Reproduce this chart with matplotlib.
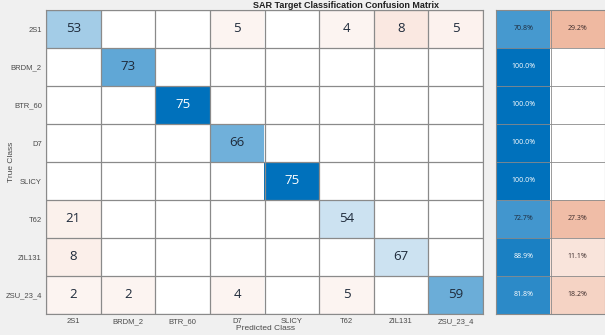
import matplotlib
matplotlib.use("Agg")
import matplotlib.pyplot as plt
import numpy as np

# DATOS
# -----
clases = ["2S1", "BRDM_2", "BTR_60", "D7", "SLICY", "T62", "ZIL131", "ZSU_23_4"]

# matriz de confusion (0 = celda vacia)
conf = np.array([
    [53, 0, 0, 5, 0, 4, 8, 5],
    [0, 73, 0, 0, 0, 0, 0, 0],
    [0, 0, 75, 0, 0, 0, 0, 0],
    [0, 0, 0, 66, 0, 0, 0, 0],
    [0, 0, 0, 0, 75, 0, 0, 0],
    [21, 0, 0, 0, 0, 54, 0, 0],
    [8, 0, 0, 0, 0, 0, 67, 0],
    [2, 2, 0, 4, 0, 5, 0, 59],
])

# resumen por fila (%)
acierto = [70.8, 100.0, 100.0, 100.0, 100.0, 72.7, 88.9, 81.8]
fallo = [29.2, 0.0, 0.0, 0.0, 0.0, 27.3, 11.1, 18.2]

# intensidad del color de cada celda (estilo)
tono = np.array([
    [0.36, 0, 0, 0.06, 0, 0.06, 0.13, 0.07],
    [0, 0.62, 0, 0, 0, 0, 0, 0],
    [0, 0, 1.0, 0, 0, 0, 0, 0],
    [0, 0, 0, 0.56, 0, 0, 0, 0],
    [0, 0, 0, 0, 1.0, 0, 0, 0],
    [0.08, 0, 0, 0, 0, 0.2, 0, 0],
    [0.09, 0, 0, 0, 0, 0, 0.2, 0],
    [0.06, 0.06, 0, 0.06, 0, 0.06, 0, 0.58],
])

azul = np.array([0.0, 0.447, 0.741])
naranja = np.array([0.85, 0.325, 0.098])
blanco = np.ones(3)


def mezcla(base, t):
    return blanco + t * (base - blanco)


n = len(clases)
img = np.zeros((n, n, 3))
for i in range(n):
    for j in range(n):
        img[i, j] = mezcla(azul if i == j else naranja, tono[i, j])

fig = plt.figure(figsize=(6.05, 3.35), dpi=100, facecolor="#f0f0f0")
W, H = 605, 335
gris = "#4a4a4a"

ax = fig.add_axes([46 / W, 21 / H, 437 / W, 304 / H])
ax.imshow(img, extent=(0, n, n, 0), aspect="auto", interpolation="nearest")
for k in range(n + 1):
    ax.axhline(k, color="#8a8a8a", lw=0.9)
    ax.axvline(k, color="#8a8a8a", lw=0.9)
for i in range(n):
    for j in range(n):
        v = conf[i, j]
        if v > 0:
            c = "white" if tono[i, j] > 0.8 else "#1e2a3a"
            ax.text(j + 0.5, i + 0.5, str(v), ha="center", va="center",
                    fontsize=9.5, color=c, family="Open Sans")
ax.set_xlim(0, n)
ax.set_ylim(n, 0)
ax.set_xticks(np.arange(n) + 0.5)
ax.set_xticklabels(clases, family="Liberation Sans")
ax.set_yticks(np.arange(n) + 0.5)
ax.set_yticklabels(clases, family="Liberation Sans")
ax.tick_params(length=0, labelsize=5.5, labelcolor=gris, pad=3)
for s in ax.spines.values():
    s.set_color("#8a8a8a")

fig.text(265 / W, 1 - 328 / H, "Predicted Class", ha="center", va="center",
         fontsize=6, color=gris, family="Liberation Sans")
fig.text(12 / W, 1 - 162 / H, "True Class", ha="center", va="center",
         rotation=90, fontsize=6, color=gris, family="Liberation Sans")

# panel resumen
ax2 = fig.add_axes([496 / W, 21 / H, 109 / W, 304 / H])
img2 = np.zeros((n, 2, 3))
for i in range(n):
    img2[i, 0] = mezcla(azul, acierto[i] / 100 * 0.95 + 0.05 if acierto[i] > 0 else 0)
    img2[i, 1] = mezcla(naranja, fallo[i] / 72 if fallo[i] > 0 else 0)
ax2.imshow(img2, extent=(0, 2, n, 0), aspect="auto", interpolation="nearest")
for k in range(n + 1):
    ax2.axhline(k, color="#8a8a8a", lw=0.6)
ax2.axvline(1, color="#8a8a8a", lw=0.6)
for i in range(n):
    ax2.text(0.5, i + 0.5, "{:.1f}%".format(acierto[i]), ha="center", va="center",
             fontsize=5, color="white" if acierto[i] > 80 else "#1e2a3a",
             family="Open Sans")
    if fallo[i] > 0:
        ax2.text(1.5, i + 0.5, "{:.1f}%".format(fallo[i]), ha="center", va="center",
                 fontsize=5, color="#3a2a2a", family="Open Sans")
ax2.set_xlim(0, 2)
ax2.set_ylim(n, 0)
ax2.set_xticks([])
ax2.set_yticks([])
for s in ax2.spines.values():
    s.set_color("#8a8a8a")

fig.text(346 / W, 1 - 5 / H, "SAR Target Classification Confusion Matrix",
         ha="center", va="center", fontsize=6.5, fontweight="bold",
         family="Liberation Sans", color="#202020")

fig.savefig("out.png", dpi=100, facecolor=fig.get_facecolor())
